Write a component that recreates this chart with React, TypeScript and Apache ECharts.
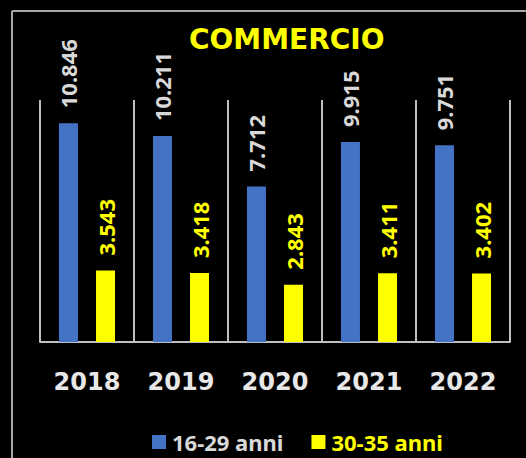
import React, { useEffect, useRef } from "react";
import * as echarts from "echarts";

const categories = ["2018", "2019", "2020", "2021", "2022"];
const seriesNames = ["16-29 anni", "30-35 anni"];
const young = [10846, 10211, 7712, 9915, 9751];
const older = [3543, 3418, 2843, 3411, 3402];

const fmt = (v: number) => {
  const s = String(Math.round(v));
  return s.replace(/\B(?=(\d{3})+(?!\d))/g, ".");
};

export default function App() {
  const ref = useRef<HTMLDivElement>(null);
  useEffect(() => {
    if (!ref.current) return;
    document.body.style.margin = "0";
    document.body.style.overflow = "hidden";
    const chart = echarts.init(ref.current, undefined, { renderer: "svg" });
    const labelBase = {
      show: true,
      position: "top" as const,
      rotate: 90,
      align: "left" as const,
      verticalAlign: "middle" as const,
      distance: 15,
      fontFamily: "Noto Sans",
      fontWeight: "bold" as const,
      fontSize: 22,
      formatter: (p: any) => fmt(p.value),
    };
    chart.setOption({
      animation: false,
      backgroundColor: "#000000",
      title: {
        text: "COMMERCIO",
        left: 184,
        top: 20,
        textStyle: {
          color: "#FFFF00",
          fontFamily: "DejaVu Sans",
          fontWeight: "bold",
          fontSize: 28,
        },
      },
      graphic: [
        {
          type: "line",
          shape: { x1: 12, y1: 11, x2: 526, y2: 11 },
          style: { stroke: "#a6a6a6", lineWidth: 2 },
        },
        {
          type: "line",
          shape: { x1: 12, y1: 11, x2: 12, y2: 458 },
          style: { stroke: "#a6a6a6", lineWidth: 2 },
        },
      ],
      legend: {
        left: 147,
        top: 426,
        itemWidth: 14,
        itemHeight: 14,
        itemGap: 28,
        icon: "rect",
        textStyle: {
          fontFamily: "Noto Sans",
          fontWeight: "bold",
          fontSize: 22,
          padding: [0, 0, 0, 1],
        },
        data: [
          { name: seriesNames[0], textStyle: { color: "#d9d9d9" } },
          { name: seriesNames[1], textStyle: { color: "#FFFF00" } },
        ],
      },
      grid: { left: 40, right: 16, top: 100, bottom: 116 },
      xAxis: {
        type: "category",
        data: categories,
        axisLine: { lineStyle: { color: "#bfbfbf", width: 2 } },
        axisTick: { show: false },
        splitLine: { show: true, lineStyle: { color: "#bfbfbf", width: 2 } },
        axisLabel: {
          color: "#e8e8e8",
          fontFamily: "DejaVu Sans",
          fontWeight: "bold",
          fontSize: 24,
          margin: 28,
        },
      },
      yAxis: {
        type: "value",
        min: 0,
        max: 12000,
        show: false,
        splitLine: { show: false },
      },
      series: [
        {
          name: seriesNames[0],
          type: "bar",
          data: young,
          barWidth: 19,
          barGap: "95%",
          itemStyle: { color: "#4472C4" },
          label: { ...labelBase, color: "#d9d9d9" },
        },
        {
          name: seriesNames[1],
          type: "bar",
          data: older,
          barWidth: 19,
          itemStyle: { color: "#FFFF00" },
          label: { ...labelBase, color: "#FFFF00" },
        },
      ],
    });
    return () => chart.dispose();
  }, []);
  return (
    <div
      ref={ref}
      style={{ position: "absolute", left: 0, top: 0, width: 526, height: 458 }}
    />
  );
}
